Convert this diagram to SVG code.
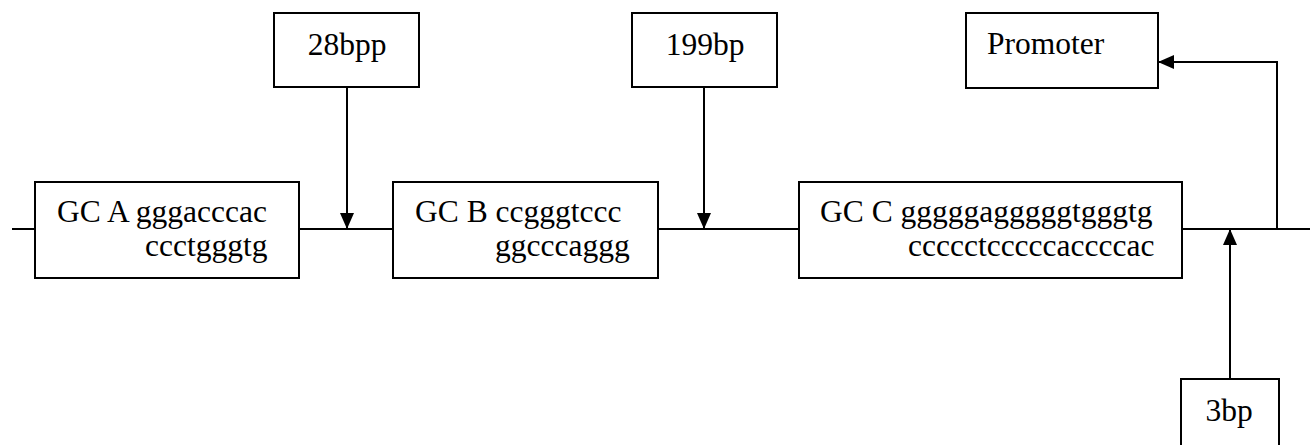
<svg xmlns="http://www.w3.org/2000/svg" width="1310" height="445" viewBox="0 0 1310 445" font-family="Liberation Serif, DejaVu Serif, serif">
<defs>
<marker id="ah" viewBox="0 0 16 14" refX="16" refY="7" markerWidth="16" markerHeight="14" markerUnits="userSpaceOnUse" orient="auto">
<path d="M0,0 L16,7 L0,14 Z" fill="#000"/>
</marker>
</defs>
<style>
rect{fill:#fff;stroke:#000;stroke-width:2}
text{font-size:31.5px;fill:#000}
.c{stroke:#000;stroke-width:2;fill:none}
</style>
<rect x="0" y="0" width="1310" height="445" style="stroke:none"/>
<g id="connectors">
<path class="c" d="M12,229 H35 M299,229 H393 M658,229 H799 M1182,229 H1310"/>
<path class="c" d="M347,87 V229" marker-end="url(#ah)"/>
<path class="c" d="M704,87 V229" marker-end="url(#ah)"/>
<path class="c" d="M1230,379 V229" marker-end="url(#ah)"/>
<path class="c" d="M1277,229 V62 H1158" marker-end="url(#ah)"/>
</g>
<g id="n28bpp">
<rect x="274" y="13" width="145" height="74"/>
<text x="347" y="55" text-anchor="middle">28bpp</text>
</g>
<g id="n199bp">
<rect x="632" y="13" width="145" height="74"/>
<text x="705" y="55" text-anchor="middle">199bp</text>
</g>
<g id="promoter">
<rect x="966" y="13" width="192" height="75"/>
<text x="987" y="54">Promoter</text>
</g>
<g id="gcA">
<rect x="35" y="182" width="264" height="96"/>
<text x="57" y="222">GC A gggacccac</text>
<text x="145" y="256">ccctgggtg</text>
</g>
<g id="gcB">
<rect x="393" y="182" width="265" height="96"/>
<text x="415" y="222">GC B ccgggtccc</text>
<text x="495" y="256">ggcccaggg</text>
</g>
<g id="gcC">
<rect x="799" y="182" width="383" height="96"/>
<text x="820" y="222">GC C gggggagggggtgggtg</text>
<text x="908" y="256">ccccctcccccaccccac</text>
</g>
<g id="n3bp">
<rect x="1181" y="379" width="98" height="70"/>
<text x="1229" y="421" text-anchor="middle">3bp</text>
</g>
</svg>
